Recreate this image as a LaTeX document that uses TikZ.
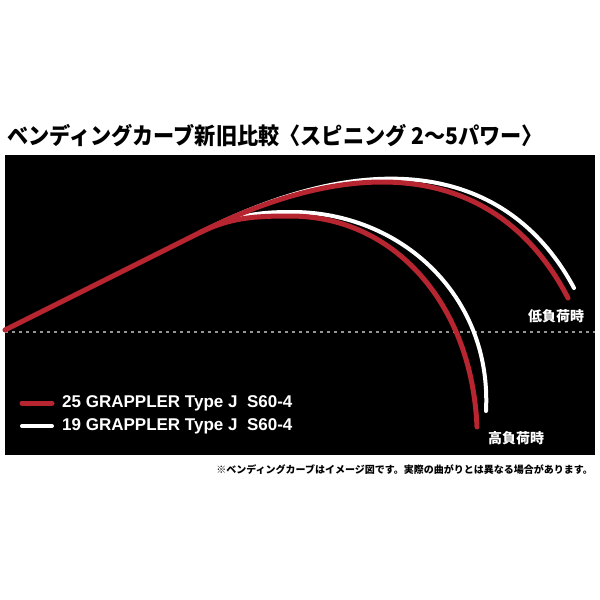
\documentclass[tikz,border=0pt]{standalone}
\usepackage{graphicx}
\usepackage{fontspec}
\newfontfamily\jp{Noto Sans CJK JP}
\newfontfamily\jpblack{Noto Sans CJK JP}[UprightFont={* Black}]
\newfontfamily\lsans{Liberation Sans}[BoldFont={Liberation Sans Bold}]
\definecolor{rred}{RGB}{183,38,48}
\definecolor{dotg}{RGB}{150,150,150}
\begin{document}
\begin{tikzpicture}[x=1pt,y=-1pt,
  redc/.style={draw=rred, line width=5, line cap=round},
  whitec/.style={draw=white, line width=4, line cap=round},
  lbl/.style={text=white, font=\jp\bfseries\fontsize{14}{14}\selectfont, inner sep=0},
  legtext/.style={text=white, font=\lsans\bfseries\fontsize{17}{17}\selectfont, inner sep=0, anchor=west},
  dotc/.style={draw=dotg, line width=1.5, dash pattern=on 3 off 4}]
\useasboundingbox (0,0) rectangle (600,600);
\node[anchor=west, inner sep=0, font=\jpblack\fontsize{23}{23}\selectfont] (title) at (7,136) {\scalebox{0.92}[1]{ベンディングカーブ新旧比較〈スピニング 2〜5パワー〉}};
\fill[black] (5,155) rectangle (595,455);
\draw[dotc] (5,332) -- (595,332);
% white curves
\draw[whitec] (200,232.5) .. controls (382,140) and (512,172) .. (574,288);
\draw[whitec] (215,226) .. controls (245,214) and (262,212) .. (292,212) .. controls (400,212) and (492,295) .. (486,411);
% red curves
\draw[redc] (5,330) -- (200,232.5) .. controls (380,142.5) and (506,178) .. (568,298);
\draw[redc] (200,232.5) .. controls (230,217.5) and (255,216) .. (290,216) .. controls (395,216) and (472,305) .. (477,427);
% labels
\node[lbl] (low) at (556,316) {低負荷時};
\node[lbl] (high) at (516,438) {高負荷時};
% legend
\coordinate (l1a) at (22,403); \coordinate (l1b) at (52,403);
\coordinate (l2a) at (22,426); \coordinate (l2b) at (52,426);
\draw[redc] (l1a) -- (l1b);
\draw[whitec] (l2a) -- (l2b);
\node[legtext] (leg1) at (62,403) {25 GRAPPLER Type J\ \ S60-4};
\node[legtext] (leg2) at (62,426) {19 GRAPPLER Type J\ \ S60-4};
\node[anchor=east, inner sep=0, font=\jp\bfseries\fontsize{10}{10}\selectfont] (note) at (593,470) {※ベンディングカーブはイメージ図です。実際の曲がりとは異なる場合があります。};
\end{tikzpicture}
\end{document}
